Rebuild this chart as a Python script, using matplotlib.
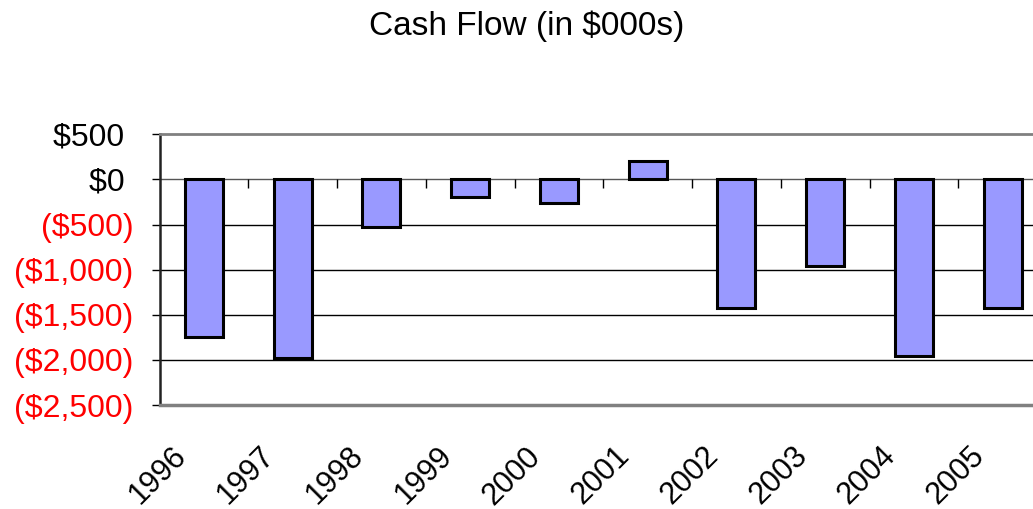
import matplotlib
matplotlib.use("Agg")
import matplotlib.pyplot as plt
import matplotlib.transforms as mtransforms
import numpy as np

plt.rcParams['font.family'] = ['Liberation Sans', 'DejaVu Sans']

# data (in $000s)
years = ['1996', '1997', '1998', '1999', '2000', '2001', '2002', '2003', '2004', '2005']
cash_flow = [-1750, -1980, -530, -200, -265, 200, -1420, -955, -1955, -1420]

y_ticks = [500, 0, -500, -1000, -1500, -2000, -2500]


def money_label(v):
    if v < 0:
        return f"(${-v:,})"
    return f"${v:,} "


fig = plt.figure(figsize=(10.33, 5.09), dpi=100)
# plot area runs past the right edge of the picture, as in the original
ax = fig.add_axes([159.5 / 1033, 104 / 509, 887.5 / 1033, 270.7 / 509])

x = np.arange(len(years))
ax.bar(x, cash_flow, width=0.43, color='#9999FF', edgecolor='black',
       linewidth=2.2, zorder=3)

ax.set_xlim(-0.5, len(years) - 0.5)
ax.set_ylim(-2500, 500)

# horizontal gridlines
for v in y_ticks[1:-1]:
    ax.axhline(v, color='black' if v != 0 else '#555555', linewidth=1, zorder=1)

# tick marks on the zero line between categories
ax.vlines(x[:-1] + 0.5, -100, 0, color='black', linewidth=1, zorder=2)

ax.set_yticks(y_ticks)
ax.set_yticklabels([money_label(v) for v in y_ticks], fontsize=23)
for lab, v in zip(ax.get_yticklabels(), y_ticks):
    lab.set_color('red' if v < 0 else 'black')
ax.tick_params(axis='y', length=5.8, width=1, pad=13, color='black')

ax.set_xticks(x)
ax.set_xticklabels(years, fontsize=22, rotation=45, ha='right', va='top',
                   rotation_mode='anchor')
ax.tick_params(axis='x', length=0, pad=0)
offset = mtransforms.ScaledTranslation(-0.33, -0.36, fig.dpi_scale_trans)
for lab in ax.get_xticklabels():
    lab.set_transform(lab.get_transform() + offset)

ax.spines['left'].set_color('#222222')
ax.spines['left'].set_linewidth(1.8)
ax.spines['top'].set_color('#808080')
ax.spines['top'].set_linewidth(2)
ax.spines['bottom'].set_color('#808080')
ax.spines['bottom'].set_linewidth(2.5)
ax.spines['right'].set_visible(False)

fig.text(0.51, 1 - 26 / 509, 'Cash Flow (in $000s)', ha='center', va='center',
         fontsize=24)

fig.savefig('out.png', dpi=100)
